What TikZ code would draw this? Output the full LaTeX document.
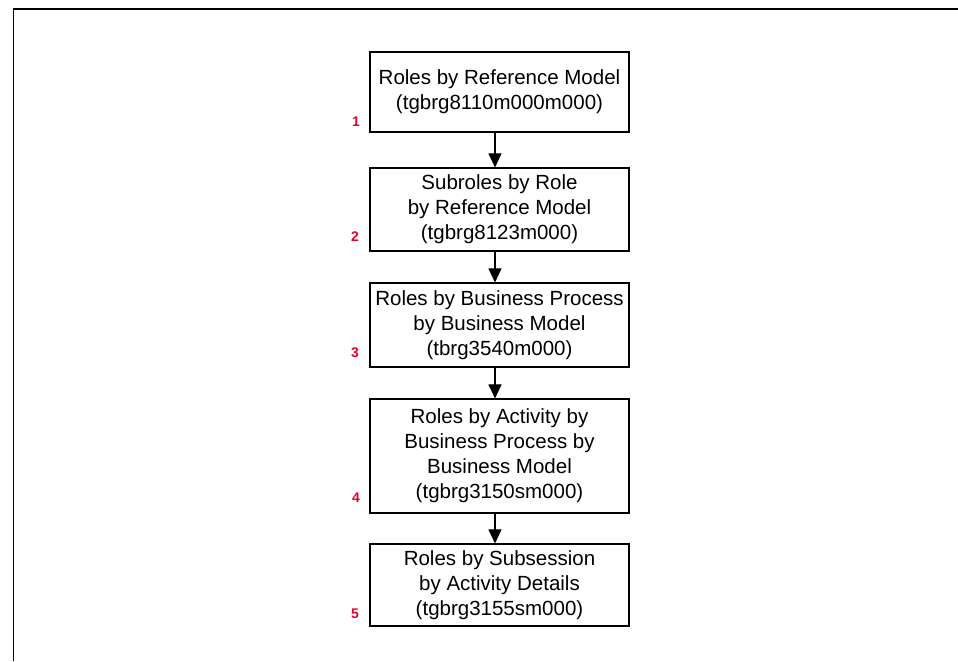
\documentclass[tikz,border=0pt]{standalone}
\usepackage{fontspec}
\setmainfont{Liberation Sans}
\usetikzlibrary{arrows.meta}
\definecolor{stepred}{RGB}{228,0,44}
\tikzset{
  stepbox/.style={draw=black, line width=1.1pt, rectangle, minimum width=259pt,
    align=center, inner sep=0pt, font=\fontsize{20.5}{25}\selectfont},
  flow/.style={draw=black, line width=1.1pt, -{Triangle[length=14pt,width=13pt]}},
  stepnum/.style={text=stepred, font=\fontsize{14}{16}\selectfont\bfseries, inner sep=0pt},
  frameline/.style={draw=black, line width=1.2pt}
}
\begin{document}
\begin{tikzpicture}[x=1pt,y=1pt]
\useasboundingbox (0,0) rectangle (958,661);
% open frame: top and left edges
\draw[frameline] (13.7,0) -- (13.7,652) -- (958,652);

% process steps
\node[stepbox, minimum height=80pt]  (b1) at (499.5,569)   {Roles by Reference Model\\(tgbrg8110m000m000)};
\node[stepbox, minimum height=83pt]  (b2) at (499.5,451.5) {Subroles by Role\\by Reference Model\\(tgbrg8123m000)};
\node[stepbox, minimum height=84pt]  (b3) at (499.5,336)   {Roles by Business Process\\by Business Model\\(tbrg3540m000)};
\node[stepbox, minimum height=114pt] (b4) at (499.5,205)   {Roles by Activity by\\Business Process by\\Business Model\\(tgbrg3150sm000)};
\node[stepbox, minimum height=82pt]  (b5) at (499.5,76)    {Roles by Subsession\\by Activity Details\\(tgbrg3155sm000)};

% step numbers
\node[stepnum] (n1) at (356,539) {1};
\node[stepnum] (n2) at (355,424) {2};
\node[stepnum] (n3) at (355,308) {3};
\node[stepnum] (n4) at (356,163) {4};
\node[stepnum] (n5) at (355,47)  {5};

% connectors
\draw[flow] ([xshift=-4.5pt]b1.south) -- ([xshift=-4.5pt]b2.north);
\draw[flow] ([xshift=-4.5pt]b2.south) -- ([xshift=-4.5pt]b3.north);
\draw[flow] ([xshift=-4.5pt]b3.south) -- ([xshift=-4.5pt]b4.north);
\draw[flow] ([xshift=-4.5pt]b4.south) -- ([xshift=-4.5pt]b5.north);
\end{tikzpicture}
\end{document}
